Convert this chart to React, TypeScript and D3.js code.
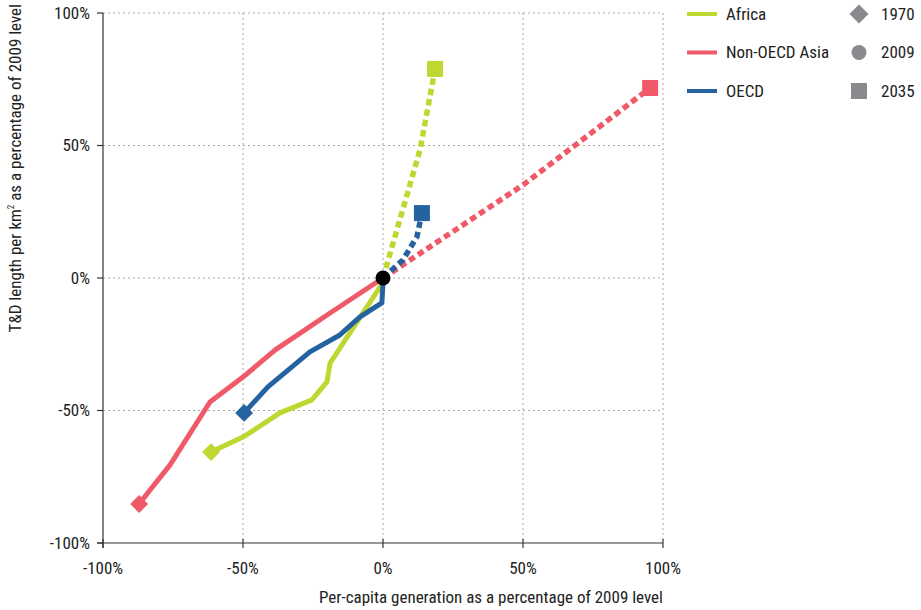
import React from "react";
import * as d3 from "d3";

type Pt = [number, number];

const regions = ["Africa", "Non-OECD Asia", "OECD"];
const colors = ["#bfd730", "#f05a68", "#2563a0"];

// historical 1970 -> 2009 paths (x: per-capita generation %, y: T&D length %)
const africaHist: Pt[] = [[-61.4, -65.7], [-49.3, -59.6], [-36.8, -50.9], [-25.4, -46.0], [-20.0, -39.2], [-18.9, -32.1], [-0.4, -2.3], [0, 0]];
const asiaHist: Pt[] = [[-87.1, -85.3], [-83.2, -80.0], [-76.1, -70.6], [-61.8, -46.8], [-50.0, -37.4], [-38.6, -27.2], [-18.9, -13.2], [0, 0]];
const oecdHist: Pt[] = [[-49.6, -50.9], [-41.1, -41.1], [-26.1, -27.9], [-15.4, -21.5], [-8.2, -14.7], [-0.4, -9.4], [0, -1.9], [0, 0]];

// projections 2009 -> 2035
const africaProj: Pt[] = [[0, 0], [13.2, 48.3], [18.6, 78.9]];
const asiaProj: Pt[] = [[0, 0], [50.0, 35.1], [95.4, 71.7]];
const oecdProj: Pt[] = [[0, 0], [7.1, 6.8], [12.1, 15.5], [13.9, 24.5]];

const xTicks = [-100, -50, 0, 50, 100];
const yTicks = [-100, -50, 0, 50, 100];
const yearLabels = ["1970", "2009", "2035"];

const FONT = "'Liberation Sans Narrow', 'Roboto Condensed', 'Arial Narrow', 'Open Sans', sans-serif";
const FS = 17;

export default function App() {
  const W = 921, H = 610;
  const x = d3.scaleLinear().domain([-100, 100]).range([103, 663]);
  const y = d3.scaleLinear().domain([-100, 100]).range([543, 13]);
  const line = d3.line<Pt>().x(d => x(d[0])).y(d => y(d[1]));

  const hist = [africaHist, asiaHist, oecdHist];
  const proj = [africaProj, asiaProj, oecdProj];
  const grid = "#a6a6a6";

  const diamond = d3.symbol().type(d3.symbolSquare).size(160)();
  const legDiamond = d3.symbol().type(d3.symbolSquare).size(180)();

  return (
    <svg width={W} height={H} style={{ position: "absolute", left: 0, top: 0, background: "#fff" }} fontFamily={FONT}>
      {/* grid */}
      {xTicks.filter(t => t !== -100).map(t => (
        <line key={"gx" + t} x1={x(t)} x2={x(t)} y1={y(100)} y2={y(-100)} stroke={grid} strokeWidth={1} strokeDasharray="2,3" />
      ))}
      {yTicks.filter(t => t !== -100).map(t => (
        <line key={"gy" + t} x1={x(-100)} x2={x(100)} y1={y(t)} y2={y(t)} stroke={grid} strokeWidth={1} strokeDasharray="2,3" />
      ))}
      {/* axes */}
      <line x1={x(-100)} x2={x(-100)} y1={y(100)} y2={y(-100) + 5} stroke="#333" strokeWidth={1.2} />
      <line x1={x(-100) - 6} x2={x(100)} y1={y(-100)} y2={y(-100)} stroke="#333" strokeWidth={1.2} />
      {yTicks.map(t => (
        <g key={"yt" + t}>
          <line x1={x(-100) - 6} x2={x(-100)} y1={y(t)} y2={y(t)} stroke="#333" strokeWidth={1.2} />
          <text x={x(-100) - 13} y={y(t)} dy="0.35em" textAnchor="end" fontSize={FS} fill="#222">{t + "%"}</text>
        </g>
      ))}
      {xTicks.map(t => (
        <g key={"xt" + t}>
          <line x1={x(t)} x2={x(t)} y1={y(-100) - 4} y2={y(-100) + 5} stroke="#333" strokeWidth={1.2} />
          <text x={x(t)} y={y(-100) + 31} textAnchor="middle" fontSize={FS} fill="#222">{t + "%"}</text>
        </g>
      ))}
      <text x={663} y={603} textAnchor="end" fontSize={FS} fill="#222">Per-capita generation as a percentage of 2009 level</text>
      <text transform={`translate(21,4) rotate(-90)`} textAnchor="end" fontSize={FS} fill="#222">
        T&amp;D length per km<tspan fontSize={9} dy={-7}>2</tspan><tspan dy={7}> as a percentage of 2009 level</tspan>
      </text>

      {/* projection dashed lines */}
      {proj.map((p, i) => (
        <path key={"p" + i} d={line(p) || ""} fill="none" stroke={colors[i]} strokeWidth={5.5} strokeDasharray="6.5,4" />
      ))}
      {/* historical lines */}
      {hist.map((p, i) => (
        <path key={"h" + i} d={line(p) || ""} fill="none" stroke={colors[i]} strokeWidth={5} strokeLinejoin="round" />
      ))}
      {/* markers */}
      {hist.map((p, i) => (
        <path key={"d" + i} d={diamond || ""} transform={`translate(${x(p[0][0])},${y(p[0][1])}) rotate(45)`} fill={colors[i]} />
      ))}
      {proj.map((p, i) => {
        const e = p[p.length - 1];
        return <rect key={"s" + i} x={x(e[0]) - 8} y={y(e[1]) - 8} width={16} height={16} fill={colors[i]} />;
      })}
      <circle cx={x(0)} cy={y(0)} r={7.5} fill="#000" />

      {/* legend */}
      {regions.map((r, i) => (
        <g key={"l" + r} transform={`translate(0,${14 + i * 38.5})`}>
          <line x1={687} x2={717} y1={0} y2={0} stroke={colors[i]} strokeWidth={4} />
          <text x={726} y={0} dy="0.35em" fontSize={FS} fill="#222">{r}</text>
        </g>
      ))}
      {yearLabels.map((yl, i) => (
        <g key={"y" + yl} transform={`translate(0,${14 + i * 38.5})`}>
          {i === 0 && <path d={legDiamond || ""} transform="translate(859,0) rotate(45)" fill="#8a8a8e" />}
          {i === 1 && <circle cx={859} cy={0} r={7.5} fill="#8a8a8e" />}
          {i === 2 && <rect x={851} y={-8} width={16} height={16} fill="#8a8a8e" />}
          <text x={881} y={0} dy="0.35em" fontSize={FS} fill="#222">{yl}</text>
        </g>
      ))}
    </svg>
  );
}
